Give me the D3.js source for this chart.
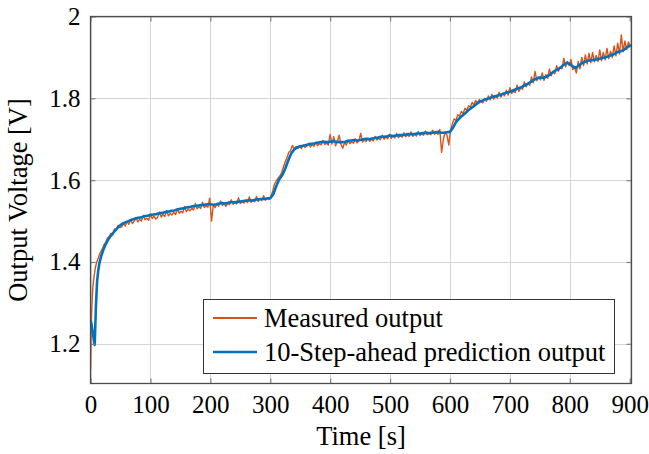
<!DOCTYPE html>
<html>
<head>
<meta charset="utf-8">
<script src="https://cdn.jsdelivr.net/npm/d3@7"></script>
<style>
  html, body { margin: 0; padding: 0; background: #fff; }
  svg { display: block; }
  text { font-family: "Liberation Serif", "Times New Roman", serif; fill: #000; }
</style>
</head>
<body>
<svg id="chart" width="649" height="454"></svg>
<script>
// ---------- DATA ----------
const xTicks = [0, 100, 200, 300, 400, 500, 600, 700, 800, 900];
const yTicks = [1.2, 1.4, 1.6, 1.8, 2.0];
const yTickLabels = ["1.2", "1.4", "1.6", "1.8", "2"];
const seriesNames = ["Measured output", "10-Step-ahead prediction output"];

// Measured output: early samples (explicit times) then one sample every 3 s from t = 10
const measuredEarlyTime = [0, 1, 2, 3, 4, 6, 8];
const measuredEarlyValue = [1.137, 1.22, 1.28, 1.315, 1.34, 1.365, 1.385];
const measuredStart = 10, measuredStep = 3;
const measuredValue = [
  // 10 .. 49
  1.398, 1.410, 1.422, 1.430, 1.441, 1.447, 1.458, 1.462, 1.470, 1.466, 1.481, 1.478, 1.490, 1.484,
  // 52 .. 298
  1.486, 1.494, 1.488, 1.499, 1.492, 1.503, 1.494, 1.500, 1.509, 1.498,
  1.504, 1.500, 1.514, 1.503, 1.507, 1.502, 1.518, 1.506, 1.512, 1.505,
  1.509, 1.522, 1.510, 1.516, 1.511, 1.526, 1.513, 1.519, 1.515, 1.521,
  1.516, 1.530, 1.519, 1.524, 1.520, 1.536, 1.523, 1.529, 1.525, 1.531,
  1.527, 1.543, 1.530, 1.535, 1.531, 1.546, 1.533, 1.538, 1.534, 1.556,
  1.500, 1.540, 1.533, 1.542, 1.536, 1.549, 1.538, 1.543, 1.536, 1.544,
  1.540, 1.552, 1.541, 1.546, 1.542, 1.557, 1.543, 1.548, 1.544, 1.550,
  1.545, 1.559, 1.546, 1.552, 1.547, 1.560, 1.548, 1.555, 1.550, 1.562,
  1.551, 1.557, 1.553,
  // 301 .. 346
  1.560, 1.572, 1.590, 1.598, 1.605, 1.610, 1.618, 1.632, 1.645, 1.655, 1.668, 1.672, 1.685, 1.676, 1.682, 1.678,
  // 349 .. 598
  1.684, 1.677, 1.686, 1.680, 1.683, 1.690, 1.681, 1.687, 1.683, 1.693,
  1.684, 1.689, 1.686, 1.697, 1.687, 1.691, 1.686, 1.712, 1.688, 1.706,
  1.684, 1.694, 1.710, 1.688, 1.678, 1.692, 1.686, 1.698, 1.689, 1.694,
  1.690, 1.701, 1.691, 1.697, 1.714, 1.693, 1.699, 1.694, 1.703, 1.695,
  1.700, 1.696, 1.707, 1.698, 1.703, 1.699, 1.710, 1.700, 1.706, 1.701,
  1.712, 1.702, 1.708, 1.703, 1.714, 1.704, 1.709, 1.705, 1.716, 1.706,
  1.711, 1.707, 1.718, 1.707, 1.712, 1.708, 1.719, 1.709, 1.714, 1.710,
  1.720, 1.711, 1.716, 1.711, 1.722, 1.712, 1.717, 1.712, 1.724, 1.668,
  1.700, 1.718, 1.710, 1.686,
  // 601 .. 652
  1.722, 1.738, 1.750, 1.746, 1.760, 1.756, 1.768, 1.763, 1.776, 1.770, 1.782, 1.778, 1.790, 1.784, 1.795, 1.788, 1.797, 1.792,
  // 655 .. 901
  1.789, 1.800, 1.793, 1.806, 1.796, 1.810, 1.798, 1.805, 1.801, 1.815,
  1.803, 1.812, 1.806, 1.820, 1.808, 1.826, 1.812, 1.818, 1.814, 1.832,
  1.817, 1.826, 1.822, 1.840, 1.828, 1.836, 1.832, 1.852, 1.838, 1.866,
  1.843, 1.852, 1.845, 1.862, 1.844, 1.858, 1.849, 1.872, 1.855, 1.866,
  1.860, 1.880, 1.866, 1.876, 1.872, 1.898, 1.877, 1.890, 1.880, 1.895,
  1.870, 1.876, 1.862, 1.890, 1.872, 1.900, 1.880, 1.906, 1.884, 1.910,
  1.887, 1.912, 1.889, 1.905, 1.890, 1.918, 1.892, 1.912, 1.894, 1.922,
  1.897, 1.915, 1.900, 1.928, 1.904, 1.935, 1.908, 1.955, 1.914, 1.940,
  1.920, 1.938, 1.926
];

// 10-step-ahead prediction output
const predictedTime = [
  0, 2, 4, 6, 7, 9, 11, 13, 15, 18, 21, 25, 30, 35, 40, 45, 50,
  55, 60, 65, 70, 75, 80, 85, 90, 95, 100, 105, 110, 115, 120, 125, 130, 135, 140, 145, 150,
  155, 160, 165, 170, 175, 180, 185, 190, 195, 200, 205, 210, 215, 220, 225, 230, 235, 240, 245, 250,
  255, 260, 265, 270, 275, 280, 285, 290, 295, 300, 305, 310, 315, 320, 325, 330, 335, 340, 345, 350,
  355, 360, 365, 370, 375, 380, 385, 390, 395, 400, 405, 410, 415, 420, 425, 430, 435, 440, 445, 450,
  455, 460, 465, 470, 475, 480, 485, 490, 495, 500, 505, 510, 515, 520, 525, 530, 535, 540, 545, 550,
  555, 560, 565, 570, 575, 580, 585, 590, 595, 600, 605, 610, 615, 620, 625, 630, 635, 640, 645, 650,
  655, 660, 665, 670, 675, 680, 685, 690, 695, 700, 705, 710, 715, 720, 725, 730, 735, 740, 745, 750,
  755, 760, 765, 770, 775, 780, 785, 790, 795, 800, 805, 810, 815, 820, 825, 830, 835, 840, 845, 850,
  855, 860, 865, 870, 875, 880, 885, 890, 895, 900, 903
];
const predictedValue = [
  1.258, 1.245, 1.225, 1.205, 1.197, 1.290, 1.352, 1.380, 1.398, 1.415, 1.428, 1.442, 1.456, 1.466, 1.475, 1.483, 1.490,
  1.495, 1.498, 1.501, 1.504, 1.506, 1.508, 1.509, 1.512, 1.513, 1.515, 1.516, 1.517, 1.519, 1.520, 1.522, 1.523, 1.525, 1.526, 1.528, 1.530,
  1.531, 1.533, 1.534, 1.536, 1.537, 1.538, 1.539, 1.540, 1.541, 1.541, 1.540, 1.541, 1.543, 1.544, 1.543, 1.545, 1.546, 1.546, 1.547, 1.548,
  1.549, 1.550, 1.551, 1.550, 1.552, 1.553, 1.554, 1.554, 1.555, 1.556, 1.565, 1.585, 1.602, 1.612, 1.628, 1.648, 1.665, 1.675, 1.680, 1.683,
  1.684, 1.686, 1.688, 1.689, 1.690, 1.692, 1.693, 1.694, 1.693, 1.694, 1.695, 1.694, 1.693, 1.693, 1.694, 1.696, 1.697, 1.698, 1.697, 1.698,
  1.700, 1.701, 1.700, 1.702, 1.703, 1.704, 1.706, 1.706, 1.707, 1.709, 1.708, 1.709, 1.710, 1.710, 1.711, 1.713, 1.712, 1.713, 1.714, 1.714,
  1.715, 1.716, 1.715, 1.716, 1.717, 1.718, 1.716, 1.716, 1.717, 1.718, 1.728, 1.742, 1.750, 1.757, 1.763, 1.770, 1.776, 1.781, 1.787, 1.792,
  1.795, 1.798, 1.800, 1.803, 1.805, 1.807, 1.809, 1.812, 1.814, 1.816, 1.819, 1.822, 1.825, 1.828, 1.832, 1.836, 1.840, 1.845, 1.849, 1.851,
  1.850, 1.852, 1.856, 1.862, 1.867, 1.871, 1.876, 1.882, 1.887, 1.884, 1.878, 1.874, 1.880, 1.886, 1.889, 1.892, 1.893, 1.894, 1.895, 1.897,
  1.899, 1.900, 1.903, 1.906, 1.909, 1.913, 1.915, 1.918, 1.924, 1.928, 1.930
];

// ---------- CHART ----------
const plot = { left: 90.5, right: 631.5, top: 16.5, bottom: 383.5 };
const svg = d3.select("#chart");

const x = d3.scaleLinear().domain([0, 903]).range([plot.left, plot.right]);
const y = d3.scaleLinear().domain([1.103, 2.0]).range([plot.bottom, plot.top]);

const measuredTime = measuredEarlyTime.concat(measuredValue.map((_, i) => measuredStart + i * measuredStep));
const measuredAll = measuredEarlyValue.concat(measuredValue);
const measured = measuredTime.map((t, i) => [t, measuredAll[i]]);
const predicted = predictedTime.map((t, i) => [t, predictedValue[i]]);

const tickFont = 25, labelFont = 26.5;
const gridColor = "#d4d4d4";
const tickColor = "#7f7f7f";
const axisColor = "#4d4d4d";
const colors = ["#D95319", "#0072BD"];

// grid
const grid = svg.append("g");
grid.selectAll("line.gx").data(xTicks).join("line")
  .attr("x1", d => Math.round(x(d)) + 0.5).attr("x2", d => Math.round(x(d)) + 0.5)
  .attr("y1", plot.top).attr("y2", plot.bottom)
  .attr("stroke", gridColor).attr("stroke-width", 1);
grid.selectAll("line.gy").data(yTicks).join("line")
  .attr("y1", d => Math.round(y(d)) + 0.5).attr("y2", d => Math.round(y(d)) + 0.5)
  .attr("x1", plot.left).attr("x2", plot.right)
  .attr("stroke", gridColor).attr("stroke-width", 1);

// clip
svg.append("clipPath").attr("id", "clip").append("rect")
  .attr("x", plot.left).attr("y", plot.top)
  .attr("width", plot.right - plot.left).attr("height", plot.bottom - plot.top);

const line = d3.line().x(d => x(d[0])).y(d => y(d[1]));
const lines = svg.append("g").attr("clip-path", "url(#clip)");
lines.append("path").datum(measured).attr("d", line)
  .attr("fill", "none").attr("stroke", colors[0]).attr("stroke-width", 1.4).attr("stroke-linejoin", "round");
lines.append("path").datum(predicted).attr("d", line)
  .attr("fill", "none").attr("stroke", colors[1]).attr("stroke-width", 2.6).attr("stroke-linejoin", "round");

// axes (inner ticks on all four sides)
const tickLen = 5;
const bottomAxis = d3.axisBottom(x).tickValues(xTicks).tickSize(-tickLen).tickPadding(12).tickFormat(d3.format("d"));
const topAxis = d3.axisTop(x).tickValues(xTicks).tickSize(-tickLen).tickFormat("");
const leftAxis = d3.axisLeft(y).tickValues(yTicks).tickSize(-tickLen).tickPadding(10).tickFormat((d, i) => yTickLabels[i]);
const rightAxis = d3.axisRight(y).tickValues(yTicks).tickSize(-tickLen).tickFormat("");

function styleAxis(g) {
  g.select(".domain").remove();
  g.selectAll(".tick line").attr("stroke", tickColor).attr("stroke-width", 1.2);
  g.selectAll(".tick text").attr("font-size", tickFont).attr("font-family", "Liberation Serif, serif").attr("fill", "#000");
}
svg.append("g").attr("transform", `translate(0,${plot.bottom})`).call(bottomAxis).call(styleAxis);
svg.append("g").attr("transform", `translate(0,${plot.top})`).call(topAxis).call(styleAxis);
svg.append("g").attr("transform", `translate(${plot.left},0)`).call(leftAxis).call(styleAxis);
svg.append("g").attr("transform", `translate(${plot.right},0)`).call(rightAxis).call(styleAxis);

// frame
svg.append("rect").attr("x", plot.left).attr("y", plot.top)
  .attr("width", plot.right - plot.left).attr("height", plot.bottom - plot.top)
  .attr("fill", "none").attr("stroke", axisColor).attr("stroke-width", 1.3);

// axis labels
svg.append("text").attr("x", (plot.left + plot.right) / 2).attr("y", 445)
  .attr("text-anchor", "middle").attr("font-size", labelFont).text("Time [s]");
svg.append("text").attr("transform", `translate(27,${(plot.top + plot.bottom) / 2}) rotate(-90)`)
  .attr("text-anchor", "middle").attr("font-size", labelFont).text("Output Voltage [V]");

// legend
const lg = svg.append("g");
lg.append("rect").attr("x", 203.5).attr("y", 299.5).attr("width", 411).attr("height", 74)
  .attr("fill", "#fff").attr("stroke", "#333").attr("stroke-width", 1);
seriesNames.forEach((name, i) => {
  const cy = 318 + i * 34;
  lg.append("line").attr("x1", 213).attr("x2", 257).attr("y1", cy).attr("y2", cy)
    .attr("stroke", colors[i]).attr("stroke-width", i === 0 ? 1.8 : 2.6);
  lg.append("text").attr("x", 264).attr("y", cy).attr("dy", "0.33em")
    .attr("font-size", labelFont).text(name);
});
</script>
</body>
</html>
